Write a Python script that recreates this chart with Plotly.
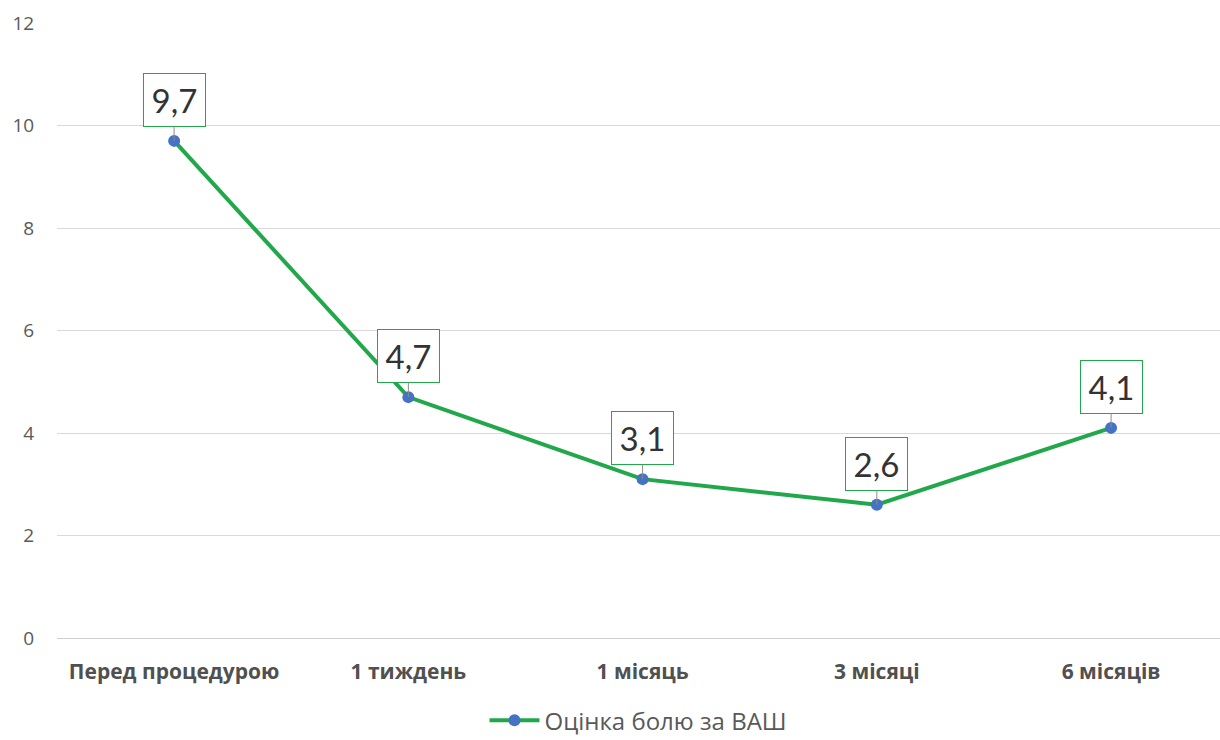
import plotly.graph_objects as go

# Pain score (VAS) over follow-up time points
categories = ["Перед процедурою", "1 тиждень", "1 місяць", "3 місяці", "6 місяців"]
vas_scores = [9.7, 4.7, 3.1, 2.6, 4.1]
y_ticks = [0, 2, 4, 6, 8, 10, 12]
series_name = "Оцінка болю за ВАШ"

FONT = "'Open Sans', Lato, sans-serif"
GREEN = "#21a84a"
BLUE = "#4472c4"
GREY = "#595959"

x_pos = list(range(len(categories)))

fig = go.Figure()
fig.add_trace(go.Scatter(
    x=x_pos, y=vas_scores, mode="lines+markers", name=series_name,
    line=dict(color=GREEN, width=4),
    marker=dict(color=BLUE, size=12),
))

# Boxed value labels with thin leader lines
for xi, v in zip(x_pos, vas_scores):
    fig.add_annotation(
        x=xi, y=v, xref="x", yref="y",
        text=f"{v:.1f}".replace(".", ","),
        showarrow=True, arrowhead=0, arrowwidth=1, arrowcolor="#8c8c8c",
        ax=0, ay=-41, standoff=0,
        width=61, height=52, borderpad=0, valign="middle",
        font=dict(family="Lato, sans-serif", size=33, color="#333333"),
        bgcolor="white", bordercolor=GREEN, borderwidth=1,
    )

fig.update_layout(
    width=1220, height=740,
    margin=dict(l=57, r=0, t=23, b=102, autoexpand=False),
    paper_bgcolor="white", plot_bgcolor="white",
    font=dict(family=FONT, color=GREY),
    showlegend=True,
    legend=dict(
        orientation="h", x=0.5, xanchor="center",
        yref="container", y=0.026, yanchor="middle",
        itemwidth=50,
        font=dict(family=FONT, size=24, color=GREY),
    ),
    xaxis=dict(
        range=[-0.5, 4.465], tickvals=x_pos,
        ticktext=[f"<b>{c}</b>" for c in categories],
        tickfont=dict(family=FONT, size=21, color="#505050"),
        showgrid=False, zeroline=False, showline=False,
        ticks="outside", ticklen=15, tickcolor="rgba(0,0,0,0)",
    ),
    yaxis=dict(
        range=[0, 12], tickvals=y_ticks,
        tickfont=dict(family=FONT, size=19, color=GREY),
        showgrid=True, gridcolor="#d9d9d9", gridwidth=1,
        zeroline=True, zerolinecolor="#d0d0d0", zerolinewidth=1,
        ticks="outside", ticklen=18, tickcolor="rgba(0,0,0,0)",
    ),
)

fig.write_html("out.html")
